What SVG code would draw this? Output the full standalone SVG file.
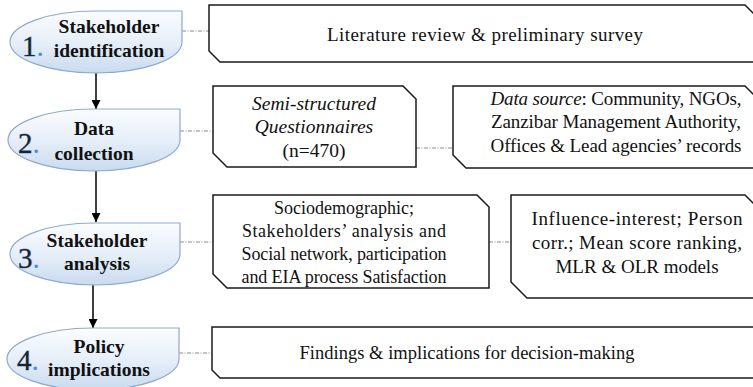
<svg xmlns="http://www.w3.org/2000/svg" width="753" height="387" viewBox="0 0 753 387" font-family="'Liberation Serif', 'Times New Roman', serif">
<defs>
<linearGradient id="nodeFill" x1="0" y1="0" x2="0" y2="1">
<stop offset="0" stop-color="#fbfdff"/>
<stop offset="0.55" stop-color="#e4edf8"/>
<stop offset="1" stop-color="#c9dbef"/>
</linearGradient>
<marker id="arrow" viewBox="0 0 10 10" refX="10" refY="5" markerWidth="9" markerHeight="9" markerUnits="userSpaceOnUse" orient="auto">
<path d="M0,0 L10,5 L0,10 Z" fill="#000"/>
</marker>
<style>
text{font-family:'Liberation Serif','Times New Roman',serif}
.node{fill:url(#nodeFill);stroke:#8faacb;stroke-width:1.2}
.title{font-weight:bold;font-size:19.5px;fill:#111;text-anchor:middle}
.num{font-size:29px;fill:#222;stroke:#6fa6dc;stroke-width:0.8;paint-order:stroke}
.dot{fill:#4a8fd6;stroke:none}
.box{fill:#fff;stroke:#1a1a1a;stroke-width:1.5}
.txt{font-size:19px;fill:#111;text-anchor:middle}
.sm{font-size:18px}
.it{font-style:italic}
.flow{stroke:#000;stroke-width:1.5;fill:none}
.link{stroke:#8a8a8a;stroke-width:1;stroke-dasharray:4 1.5 1 1.5;fill:none}
</style>
</defs>

<g id="connectors">
<line class="flow" x1="96" y1="73" x2="96" y2="109" marker-end="url(#arrow)"/>
<line class="flow" x1="96" y1="171" x2="96" y2="222" marker-end="url(#arrow)"/>
<line class="flow" x1="93" y1="285" x2="93" y2="328" marker-end="url(#arrow)"/>
<line class="link" x1="182" y1="31" x2="209" y2="31"/>
<line class="link" x1="180" y1="131" x2="213" y2="131"/>
<line class="link" x1="416" y1="148" x2="453" y2="148"/>
<line class="link" x1="180" y1="242" x2="213" y2="242"/>
<line class="link" x1="489" y1="242" x2="511" y2="242"/>
<line class="link" x1="179" y1="353" x2="212" y2="353"/>
</g>

<g id="node1">
<path class="node" d="M96,11 H182 V42 A86,31 0 0 1 96,73 A86,31 0 0 1 10,42 A86,31 0 0 1 96,11 Z"/>
<text class="num" x="22" y="56">1<tspan class="dot">.</tspan></text>
<text class="title" x="109" y="33">Stakeholder</text>
<text class="title" x="109" y="57">identification</text>
</g>

<g id="node2">
<path class="node" d="M94,109 H180 V140 A86,31 0 0 1 94,171 A86,31 0 0 1 8,140 A86,31 0 0 1 94,109 Z"/>
<text class="num" x="18" y="153">2<tspan class="dot">.</tspan></text>
<text class="title" x="94" y="135">Data</text>
<text class="title" x="94" y="160">collection</text>
</g>

<g id="node3">
<path class="node" d="M95,223 H180 V254 A85,31 0 0 1 95,285 A85,31 0 0 1 10,254 A85,31 0 0 1 95,223 Z"/>
<text class="num" x="18" y="268">3<tspan class="dot">.</tspan></text>
<text class="title" x="97" y="247">Stakeholder</text>
<text class="title" x="97" y="270">analysis</text>
</g>

<g id="node4">
<path class="node" d="M93,328 H179 V359 A86,31 0 0 1 93,390 A86,31 0 0 1 7,359 A86,31 0 0 1 93,328 Z"/>
<text class="num" x="17" y="370">4<tspan class="dot">.</tspan></text>
<text class="title" x="99" y="353">Policy</text>
<text class="title" x="99" y="376">implications</text>
</g>

<g id="box1">
<polygon class="box" points="209,5 745,5 758,18 758,62 220,62 209,51"/>
<text class="txt" x="485" y="41" textLength="316" lengthAdjust="spacing">Literature review &amp; preliminary survey</text>
</g>

<g id="box2a">
<polygon class="box" points="213,86 403,86 416,99 416,167 227,167 213,153"/>
<text class="txt it" x="314" y="110" style="font-size:19.5px">Semi-structured</text>
<text class="txt it" x="314" y="133" style="font-size:19.5px">Questionnaires</text>
<text class="txt" x="314" y="157" style="font-size:19.5px">(n=470)</text>
</g>

<g id="box2b">
<polygon class="box" points="453,86 745,86 758,99 758,168 466,168 453,155"/>
<text class="txt" x="616" y="105" textLength="251" lengthAdjust="spacing"><tspan class="it">Data source</tspan>: Community, NGOs,</text>
<text class="txt" x="616" y="128" textLength="250" lengthAdjust="spacing">Zanzibar Management Authority,</text>
<text class="txt" x="616" y="152" textLength="251" lengthAdjust="spacing">Offices &amp; Lead agencies’ records</text>
</g>

<g id="box3a">
<polygon class="box" points="213,195 477,195 489,207 489,288 227,288 213,274"/>
<text class="txt sm" x="344" y="214">Sociodemographic;</text>
<text class="txt sm" x="344" y="237" textLength="204" lengthAdjust="spacing">Stakeholders’ analysis and</text>
<text class="txt sm" x="344" y="260" textLength="205" lengthAdjust="spacing">Social network, participation</text>
<text class="txt sm" x="344" y="283" textLength="205" lengthAdjust="spacing">and EIA process Satisfaction</text>
</g>

<g id="box3b">
<polygon class="box" points="511,195 745,195 758,208 758,298 527,298 511,282"/>
<text class="txt" x="637" y="225" textLength="211" lengthAdjust="spacing">Influence-interest; Person</text>
<text class="txt" x="637" y="249" textLength="210" lengthAdjust="spacing">corr.; Mean score ranking,</text>
<text class="txt" x="637" y="273">MLR &amp; OLR models</text>
</g>

<g id="box4">
<polygon class="box" points="212,327 758,327 758,378 220,378 212,370"/>
<text class="txt" x="467" y="359" style="font-size:18.5px" textLength="335" lengthAdjust="spacing">Findings &amp; implications for decision-making</text>
</g>
</svg>
